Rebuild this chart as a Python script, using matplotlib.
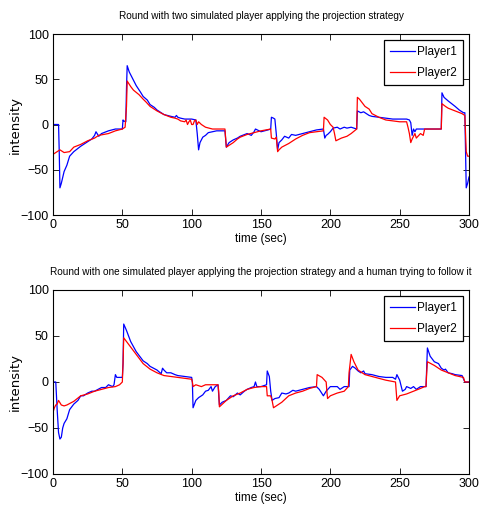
import matplotlib
matplotlib.use("Agg")
import matplotlib.pyplot as plt

plt.rcParams['font.family'] = ['Liberation Sans', 'DejaVu Sans']

# ---- Data: (time, intensity) pairs ----
top_p1 = [(0, 0), (4, 0), (4.5, -30), (5, -70), (6, -65), (8, -52), (10, -45), (12, -35), (15, -30),
          (20, -24), (25, -19), (28, -16), (30, -12), (31, -8), (33, -13), (35, -10), (40, -7), (45, -5),
          (50, -5), (50.5, 5), (51, 4), (52.5, 3), (53, 40), (53.5, 65), (55, 58), (57, 52), (60, 43),
          (63, 36), (65, 31), (68, 27), (70, 22), (73, 19), (75, 16), (78, 13), (80, 11), (85, 9), (88, 8),
          (89, 10), (90, 8), (92, 7), (95, 6), (100, 6), (103, 5), (104, -10), (105, -28), (106, -20),
          (108, -14), (110, -12), (112, -9), (115, -8), (118, -7), (124, -7), (125, -25), (127, -20),
          (130, -17), (133, -15), (135, -13), (140, -10), (143, -12), (145, -8), (146, -5), (150, -8),
          (155, -6), (157, -5), (157.5, 8), (159, 7), (160, 6), (161, -10), (162, -28), (163, -20),
          (165, -17), (167, -13), (170, -15), (172, -11), (175, -12), (180, -10), (185, -8), (190, -6),
          (195, -5), (196, -15), (197, -12), (198, -11), (200, -8), (202, -4), (205, -3), (207, -5),
          (210, -3), (212, -4), (215, -3), (219, -5), (219.5, 15), (222, 13), (224, 14), (226, 12),
          (228, 10), (230, 9), (235, 8), (240, 7), (245, 6), (250, 6), (255, 6), (257, 5), (258, 2),
          (259, -12), (260, -5), (261, -8), (262, -5), (265, -5), (270, -5), (275, -5), (280, -5),
          (280.5, 35), (282, 30), (285, 26), (290, 20), (293, 16), (296, 13), (297, 13), (298, -70),
          (299, -65), (300, -58)]

top_p2 = [(0, -33), (3, -30), (5, -28), (8, -31), (12, -30), (15, -25), (20, -22), (25, -18), (30, -15),
          (33, -12), (40, -10), (45, -7), (50, -5), (52, -3), (53, 20), (53.5, 48), (56, 42), (58, 38),
          (62, 33), (65, 28), (67, 25), (70, 20), (75, 15), (80, 11), (85, 8), (88, 7), (90, 6), (92, 4),
          (95, 3), (96, 5), (97, 0), (98, 3), (99, 5), (100, 0), (101, 0), (102, 4), (103, 5), (104, 0),
          (105, 3), (107, 0), (110, -3), (115, -5), (124, -5), (125, -25), (128, -22), (130, -20),
          (133, -16), (135, -14), (140, -11), (145, -9), (150, -7), (157, -5), (157.5, -15), (160, -16),
          (161, -14), (162, -30), (163, -28), (165, -25), (170, -21), (175, -16), (180, -12), (185, -9),
          (190, -8), (195, -7), (195.5, 8), (198, 5), (200, 0), (202, -3), (203, -10), (204, -18),
          (208, -15), (212, -13), (215, -10), (219, -5), (219.5, 30), (221, 28), (223, 24), (225, 20),
          (228, 17), (230, 12), (235, 8), (240, 5), (245, 4), (250, 3), (255, 3), (256, -3), (257, -10),
          (258, -20), (259, -16), (261, -10), (262, -15), (265, -10), (267, -12), (268, -5), (270, -5),
          (280, -5), (280.5, 23), (283, 20), (285, 18), (290, 15), (295, 12), (297, 10), (298, -30),
          (299, -35), (300, -35)]

bot_p1 = [(0, 0), (2, 0), (3, -30), (4, -55), (5, -62), (6, -60), (7, -50), (8, -45), (10, -40),
          (12, -30), (15, -24), (18, -20), (20, -15), (22, -15), (25, -12), (28, -10), (30, -10),
          (35, -6), (38, -6), (40, -3), (43, -5), (44, -3), (45, 8), (46, 5), (47, 5), (49, 5), (50, 5),
          (50.5, 20), (51, 63), (53, 56), (56, 44), (60, 33), (63, 27), (65, 23), (68, 20), (70, 17),
          (75, 13), (78, 9), (79, 15), (80, 13), (82, 10), (85, 10), (88, 8), (90, 7), (95, 6), (100, 5),
          (100.5, 0), (101, -28), (103, -20), (105, -17), (108, -14), (110, -10), (112, -9), (114, -5),
          (115, -10), (117, -5), (118, -4), (119, -3), (120, -25), (122, -22), (125, -20), (128, -15),
          (130, -16), (133, -12), (135, -14), (138, -10), (140, -8), (143, -6), (145, -5), (146, 0),
          (147, -5), (148, -5), (150, -5), (154, -3), (154.5, 12), (155, 10), (156, 6), (157, -10),
          (158, -20), (160, -18), (163, -17), (165, -12), (168, -13), (170, -12), (173, -9), (175, -10),
          (180, -8), (185, -6), (190, -5), (192, -8), (195, -15), (197, -10), (200, -5), (202, -5),
          (205, -5), (207, -8), (210, -5), (212, -5), (213.5, -5), (214, 13), (216, 17), (218, 15),
          (220, 12), (222, 10), (224, 12), (225, 9), (230, 8), (235, 6), (240, 5), (245, 5), (247, 3),
          (248, 8), (250, 2), (252, -10), (254, -8), (255, -5), (258, -7), (260, -5), (262, -8),
          (265, -5), (269, -5), (270, 37), (272, 28), (275, 22), (278, 20), (280, 15), (282, 13),
          (283, 14), (285, 10), (288, 9), (290, 8), (295, 7), (297, 0), (300, 0)]

bot_p2 = [(0, -33), (1, -28), (2, -25), (3, -24), (4, -20), (6, -25), (8, -26), (10, -25), (15, -21),
          (20, -15), (25, -13), (30, -10), (35, -8), (40, -6), (45, -5), (48, -3), (50, 0), (50.5, 20),
          (51, 48), (53, 44), (55, 40), (60, 30), (65, 20), (70, 14), (75, 10), (80, 7), (90, 5),
          (100, 3), (100.5, 0), (101, -5), (103, -3), (107, -5), (110, -3), (115, -3), (119, -3),
          (119.5, -10), (120, -27), (125, -20), (130, -15), (135, -12), (140, -8), (145, -6), (150, -5),
          (154, -5), (154.5, -15), (157, -15), (158, -20), (159, -28), (162, -25), (165, -22),
          (170, -15), (175, -12), (180, -10), (185, -7), (190, -5), (190.5, 8), (194, 5), (197, 0),
          (197.5, -10), (198, -18), (200, -15), (205, -12), (210, -10), (213, -5), (213.5, 10),
          (215, 30), (217, 22), (220, 13), (225, 8), (230, 6), (235, 4), (240, 2), (247, 0),
          (247.5, -10), (248, -20), (250, -15), (255, -13), (260, -10), (265, -7), (268, -5), (269, -5),
          (269.5, 10), (270, 22), (275, 18), (280, 13), (285, 10), (290, 7), (296, 5), (297, 0),
          (300, 0)]

series_labels = ['Player1', 'Player2']
titles = ['Round with two simulated player applying the projection strategy',
          'Round with one simulated player applying the projection strategy and a human trying to follow it']

fig = plt.figure(figsize=(4.79, 5.16), dpi=100)
ax1 = fig.add_axes([53/479, 1-215/516, 416/479, 181/516])
ax2 = fig.add_axes([53/479, 1-474/516, 416/479, 184/516])

panels = [(ax1, top_p1, top_p2, titles[0]),
          (ax2, bot_p1, bot_p2, titles[1])]

for ax, s1, s2, title in panels:
    for s, col, lab in [(s1, '#0000ff', series_labels[0]), (s2, '#ff0000', series_labels[1])]:
        t = [p[0] for p in s]
        v = [p[1] for p in s]
        ax.plot(t, v, color=col, lw=0.9, label=lab)
    ax.set_xlim(0, 300)
    ax.set_ylim(-100, 100)
    ax.set_xticks([0, 50, 100, 150, 200, 250, 300])
    ax.set_yticks([-100, -50, 0, 50, 100])
    ax.tick_params(direction='in', top=True, right=True, labelsize=9, length=4, width=0.6, pad=3)
    for sp in ax.spines.values():
        sp.set_linewidth(0.8)
    ax.set_xlabel('time (sec)', fontsize=8.5, labelpad=1)
    ax.set_ylabel('intensity', fontsize=9.5, family=['DejaVu Sans'])
    ax.yaxis.set_label_coords(-0.075, 0.5)
    ax.set_title(title, fontsize=7.2, pad=11)
    leg = ax.legend(loc='upper right', fontsize=8.5, fancybox=False, edgecolor='black',
                    framealpha=1, borderpad=0.5, handlelength=2.1, handletextpad=0.2,
                    borderaxespad=0.5, labelspacing=0.75)
    leg.get_frame().set_linewidth(0.9)

fig.savefig('out.png', dpi=100)
